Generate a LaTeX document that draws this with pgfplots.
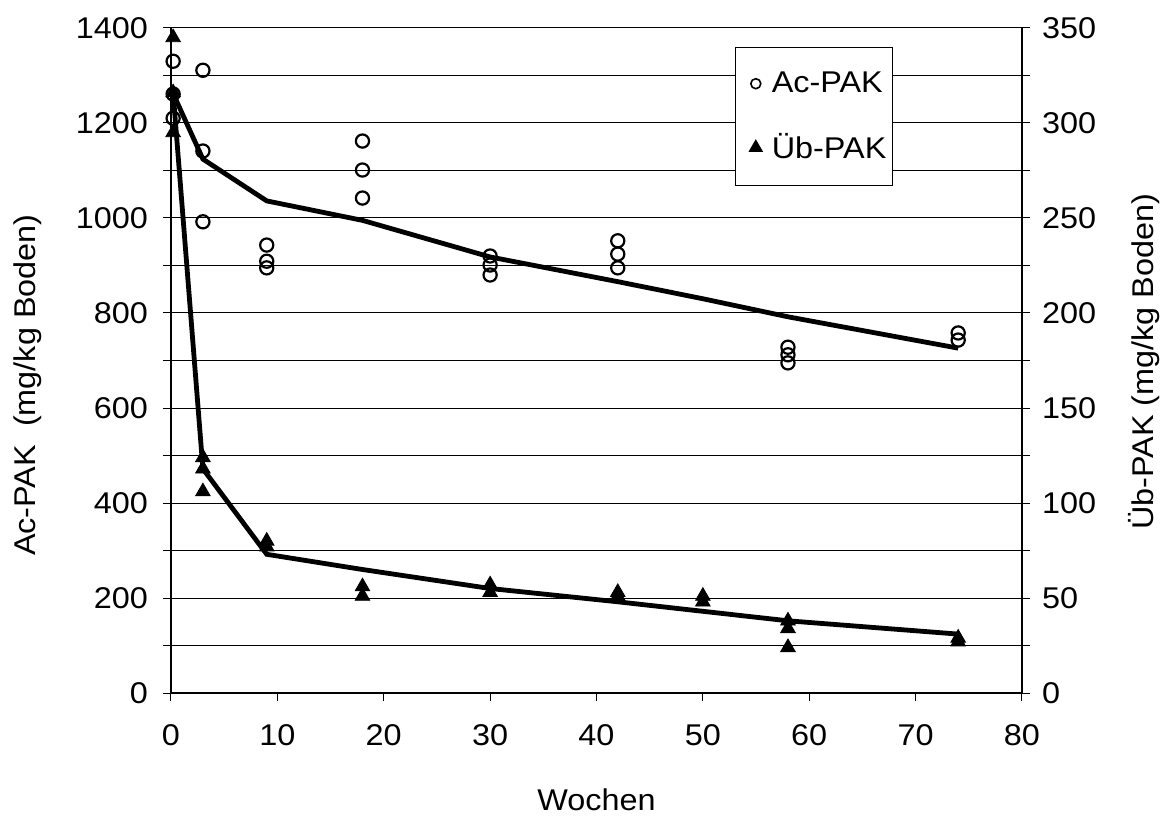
\documentclass[border=0pt]{standalone}
\usepackage{fontspec}
\setmainfont[FakeStretch=1.08]{Liberation Sans}
\usepackage{pgfplots}
\pgfplotsset{compat=1.18}

\begin{document}
\begin{tikzpicture}
\path[use as bounding box] (-85.5pt,-63pt) rectangle (500pt,346.5pt);
\pgfplotsset{
  every axis/.append style={font=\fontsize{15}{18}\selectfont},
  mystyle/.style={
    scale only axis, width=425.5pt, height=332.5pt,
    xmin=0, xmax=80,
    tick align=outside, major tick length=4pt, minor tick length=4pt,
    tick style={black, line width=0.5pt},
    axis line style={line width=0.8pt, -},
    /pgf/number format/assume math mode=true,
    /pgf/number format/1000 sep={},
    clip=false,
  },
}
\begin{axis}[
  mystyle,
  ymin=0, ymax=1400,
  axis x line*=bottom, axis y line*=left,
  xtick={0,10,...,80}, ytick={0,200,...,1400}, minor ytick={100,300,...,1300},
  ymajorgrids, yminorgrids,
  major grid style={black, line width=0.5pt},
  minor grid style={black, line width=0.5pt},
  yticklabel style={xshift=-4pt},
  xticklabel style={yshift=-8pt},
  xlabel={Wochen}, ylabel={Ac-PAK\ \ (mg/kg Boden)},
  xlabel style={at={(axis description cs:0.5,-0.161)}, anchor=center},
  ylabel style={at={(axis description cs:-0.168,0.463)}, anchor=center},
]
% Ac-PAK trend line
\addplot[line width=2.4pt, no marks] coordinates {
  (0.2,1262) (3,1124) (9,1036) (18,995) (30,918) (42,866) (50,830) (58,792) (74,726)
};
% Ac-PAK measurements
\addplot[only marks, mark=o, mark size=3.3pt, line width=1.1pt] coordinates {
  (0.2,1330) (0.2,1261) (0.2,1210)
  (3,1311) (3,1141) (3,992)
  (9,943) (9,909) (9,895)
  (18,1162) (18,1101) (18,1042)
  (30,920) (30,901) (30,880)
  (42,952) (42,924) (42,895)
  (58,728) (58,712) (58,695)
  (74,758) (74,743)
};
\end{axis}

\begin{axis}[
  mystyle,
  ymin=0, ymax=350,
  axis y line*=right, axis x line=none,
  ytick={0,50,...,350}, minor ytick={25,75,...,325},
  yticklabel style={xshift=2.5pt},
  ylabel={Üb-PAK (mg/kg Boden)},
  ylabel style={at={(axis description cs:1.143,0.498)}, anchor=center},
  legend style={at={(axis description cs:0.663,0.971)}, anchor=north west,
    draw=black, line width=0.6pt, fill=white,
    inner xsep=2pt, inner ysep=11pt, row sep=17pt,
    nodes={inner sep=1pt}},
  legend cell align=left,
  legend image code/.code={\path[draw=none, fill=none] (0pt,-4pt) rectangle (15pt,4pt);
    \draw[#1] plot coordinates {(8pt,0pt)};},
]
\addlegendimage{only marks, mark=o, mark size=2.5pt, line width=0.8pt}
\addlegendentry{Ac-PAK}
\addlegendimage{only marks, mark=triangle*, mark size=3.6pt}
\addlegendentry{Üb-PAK}
% Üb-PAK trend line
\addplot[line width=2.4pt, no marks, forget plot] coordinates {
  (0.2,316) (3,118) (9,73) (18,65) (30,55) (42,48) (50,43) (58,38) (74,31)
};
% Üb-PAK measurements
\addplot[only marks, mark=triangle*, mark size=4.2pt, forget plot] coordinates {
  (0.2,345) (0.2,316) (0.2,295)
  (3,124) (3,118) (3,106)
  (9,80) (9,77)
  (18,56) (18,51)
  (30,57) (30,53)
  (42,53) (42,51)
  (50,51) (50,48)
  (58,38) (58,34) (58,24)
  (74,29) (74,27)
};
\end{axis}
\end{tikzpicture}
\end{document}
